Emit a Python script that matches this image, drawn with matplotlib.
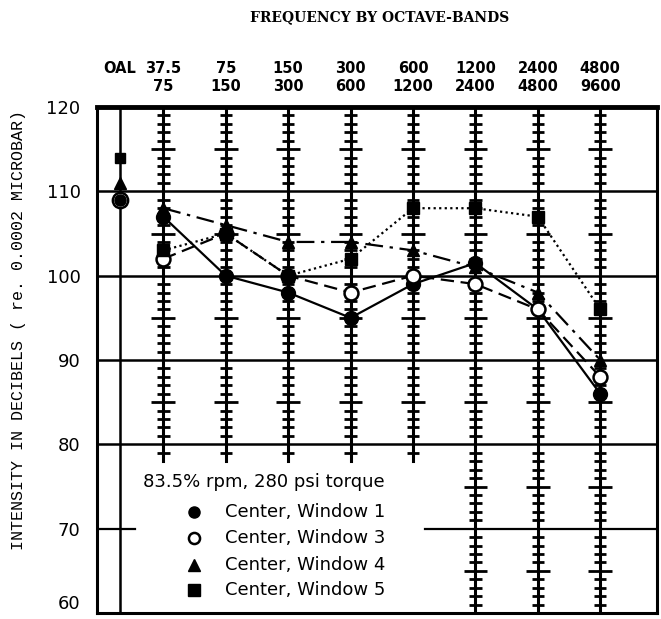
import numpy as np
import matplotlib
matplotlib.use("Agg")
import matplotlib.pyplot as plt

# frequency bands (octave) and overall level
band_lo = ["37.5", "75", "150", "300", "600", "1200", "2400", "4800"]
band_hi = ["75", "150", "300", "600", "1200", "2400", "4800", "9600"]

# levels in dB, OAL first then the eight bands
oal_w1 = 109
oal_w3 = 109
oal_w4 = 111
oal_w5 = 114
w1 = [107, 100, 98, 95, 99, 101.5, 96, 86]
w3 = [102, 105, 100, 98, 100, 99, 96, 88]
w4 = [108, 106, 104, 104, 103, 101, 98, 90]
w5 = [103, 105, 100, 102, 108, 108, 107, 96]

legend_title = "83.5% rpm, 280 psi torque"
labels = ["Center, Window 1", "Center, Window 3", "Center, Window 4", "Center, Window 5"]

sans = ["DejaVu Sans"]

fig = plt.figure(figsize=(6.61, 6.19), dpi=100)
ax = fig.add_axes([0.147, 0.0097, 0.847, 0.8174])
ax.set_xlim(-0.06, 8.91)
ax.set_ylim(60, 120)

xs = np.arange(1, 9)
oal_x = 0.3

# grid lines
for v in [110, 100, 90, 80]:
    ax.axhline(v, color="black", lw=1.8, zorder=1)
ax.plot([-0.06, 0.55], [70, 70], color="black", lw=1.6, zorder=1)
ax.plot([5.2, 8.91], [70, 70], color="black", lw=1.6, zorder=1)

# OAL plain vertical line
ax.axvline(oal_x, color="black", lw=1.8, zorder=1)

# band columns with dB ticks
for i, x in enumerate(xs):
    bottom = 78 if i < 5 else 60
    ax.plot([x, x], [bottom, 120], color="black", lw=2.2, zorder=2)
    for v in range(int(np.ceil(bottom)) + 1, 120):
        if v % 10 == 0:
            continue
        hw = 0.19 if v % 5 == 0 else 0.1
        ax.plot([x - hw, x + hw], [v, v], color="black", lw=2.0, zorder=2,
                solid_capstyle="butt")

# series
ax.plot(xs, w1, color="black", lw=1.6, ls="-", marker="o", ms=10, mfc="black", zorder=4)
ax.plot(xs, w3, color="black", lw=1.6, ls=(0, (6, 3)), marker="o", ms=10, mfc="white",
        mew=1.8, zorder=4)
ax.plot(xs, w4, color="black", lw=1.6, ls=(0, (8, 3, 1.5, 3)), marker="^", ms=9, mfc="black",
        zorder=4)
ax.plot(xs, w5, color="black", lw=1.6, ls=(0, (1, 1.5)), marker="s", ms=9, mfc="black",
        zorder=4)

ax.plot([oal_x], [oal_w5], marker="s", ms=7, color="black", zorder=5)
ax.plot([oal_x], [oal_w4], marker="^", ms=9, color="black", zorder=5)
ax.plot([oal_x], [oal_w3], marker="o", ms=11, mfc="white", mec="black", mew=1.8, zorder=5)
ax.plot([oal_x], [oal_w1], marker="o", ms=8, color="black", zorder=6)

# frame
for s in ax.spines.values():
    s.set_linewidth(2.2)
ax.spines["top"].set_linewidth(3.5)

ax.set_xticks([])
ax.set_yticks([60, 70, 80, 90, 100, 110, 120])
ax.set_yticklabels(["60", "70", "80", "90", "100", "110", "120"], family=sans,
                   fontsize=13)
ax.get_yticklabels()[0].set_va("bottom")
ax.tick_params(axis="y", length=0, pad=12)

# band headers
tr = ax.get_xaxis_transform()
ax.text(oal_x, 1.077, "OAL", transform=tr, ha="center", va="center",
        fontsize=10.5, fontweight="bold")
for x, lo, hi in zip(xs, band_lo, band_hi):
    ax.text(x, 1.077, lo, transform=tr, ha="center", va="center",
            fontsize=10.5, fontweight="bold")
    ax.text(x, 1.0415, hi, transform=tr, ha="center", va="center",
            fontsize=10.5, fontweight="bold")

fig.text(0.575, 0.972, "FREQUENCY BY OCTAVE-BANDS", ha="center", va="center",
         family="DejaVu Serif", fontsize=10, fontweight="bold")
fig.text(0.028, 0.467, "INTENSITY IN DECIBELS ( re. 0.0002 MICROBAR)", rotation=90,
         ha="center", va="center", family=["Liberation Mono", "DejaVu Sans Mono"],
         fontsize=12)

# legend
ax.text(0.082, 0.259, legend_title, transform=ax.transAxes, ha="left", va="center",
        family=sans, fontsize=13, zorder=6)
leg_y = [0.200, 0.148, 0.095, 0.045]
styles = [dict(marker="o", mfc="black"), dict(marker="o", mfc="white", mew=1.8),
          dict(marker="^", mfc="black"), dict(marker="s", mfc="black")]
for yy, lab, st in zip(leg_y, labels, styles):
    ax.plot([0.173], [yy], transform=ax.transAxes, color="black", ms=8, ls="none",
            clip_on=False, **st)
    ax.text(0.229, yy, lab, transform=ax.transAxes, ha="left", va="center",
            family=sans, fontsize=13)

fig.savefig("out.png", dpi=100)
